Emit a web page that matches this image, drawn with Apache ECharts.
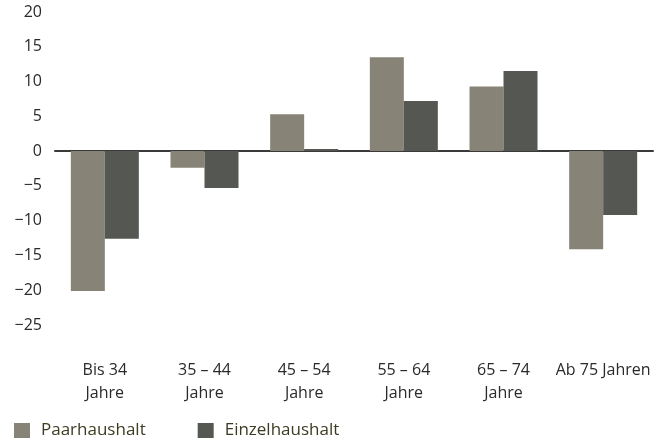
<!DOCTYPE html>
<html>
<head>
<meta charset="utf-8">
<script src="https://cdn.jsdelivr.net/npm/echarts@6/dist/echarts.min.js"></script>
<style>
  html, body { margin: 0; padding: 0; background: #fff; }
  #chart { width: 660px; height: 439px; }
</style>
</head>
<body>
<div id="chart"></div>
<script>
// Altersgruppen
const categories = ['Bis 34\nJahre', '35 – 44\nJahre', '45 – 54\nJahre', '55 – 64\nJahre', '65 – 74\nJahre', 'Ab 75 Jahren'];
const paarhaushalt = [-20.1, -2.4, 5.3, 13.5, 9.3, -14.1];
const einzelhaushalt = [-12.6, -5.3, 0.3, 7.2, 11.5, -9.2];
const seriesNames = ['Paarhaushalt', 'Einzelhaushalt'];

const chart = echarts.init(document.getElementById('chart'));
const font = '"Open Sans", "Noto Sans", sans-serif';

chart.setOption({
  animation: false,
  color: ['#878377', '#555852'],
  textStyle: { fontFamily: font },
  grid: { left: 55, right: 7, top: 12, bottom: 114 },
  legend: {
    left: 14,
    top: 422,
    padding: 0,
    icon: 'rect',
    itemWidth: 16,
    itemHeight: 15,
    itemGap: 52,
    textStyle: { fontSize: 17, color: '#3d3b22', fontFamily: font, padding: [0, 0, 0, 6] },
    data: seriesNames
  },
  xAxis: [
    {
      // Nulllinie
      type: 'category',
      data: categories,
      axisLine: { onZero: true, lineStyle: { color: '#3a3a3a', width: 2 } },
      axisTick: { show: false },
      axisLabel: { show: false }
    },
    {
      type: 'category',
      data: categories,
      position: 'bottom',
      axisLine: { show: false, onZero: false },
      axisTick: { show: false },
      axisLabel: {
        margin: 34,
        fontSize: 16,
        lineHeight: 23,
        color: '#2a2a2a',
        fontFamily: font,
        interval: 0
      }
    }
  ],
  yAxis: {
    type: 'value',
    min: -25,
    max: 20,
    interval: 5,
    axisLine: { show: false },
    axisTick: { show: false },
    splitLine: { show: false },
    axisLabel: {
      margin: 13,
      fontSize: 16,
      color: '#2a2a2a',
      fontFamily: font,
      formatter: v => String(v).replace('-', '−')
    }
  },
  series: [
    { name: seriesNames[0], type: 'bar', data: paarhaushalt, barWidth: 34, barGap: '0%' },
    { name: seriesNames[1], type: 'bar', data: einzelhaushalt, barWidth: 34, barGap: '0%' }
  ]
});
</script>
</body>
</html>
